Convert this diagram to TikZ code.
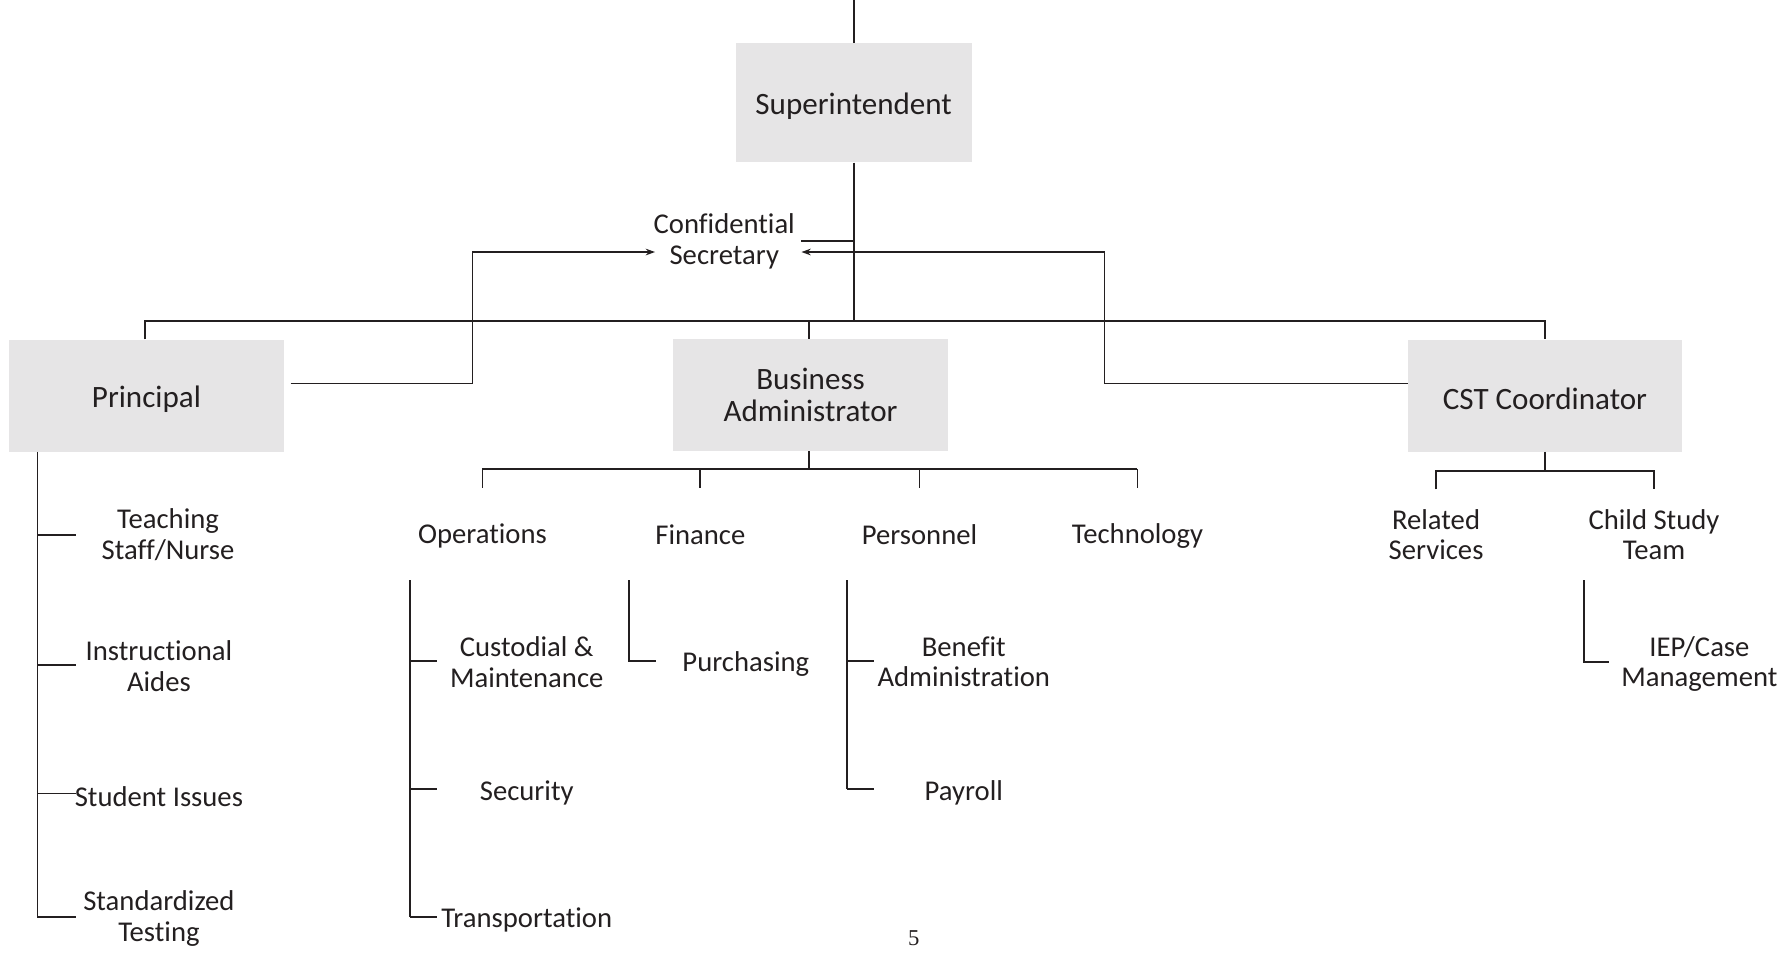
\documentclass[tikz,border=0pt]{standalone}
\usepackage{fontspec}
\setmainfont{Carlito}[Ligatures={NoCommon}]
\newfontfamily\pagefont{Liberation Serif}
\usetikzlibrary{arrows.meta}
\definecolor{boxgray}{RGB}{230,229,230}
\definecolor{ink}{RGB}{35,31,32}
\newcommand{\dn}[1]{\raisebox{-2.5pt}[\height][\depth]{#1}}
\begin{document}
\begin{tikzpicture}[x=0.8514pt,y=-0.8514pt,
  every node/.style={font=\fontsize{21.5}{23}\selectfont, text=ink},
  bigbox/.style={fill=boxgray, draw=none, minimum width=206pt, minimum height=84pt, inner sep=0pt, align=center, font=\fontsize{23.3}{24.3}\selectfont},
  lbl/.style={inner sep=0pt, align=center},
  one/.style={lbl, yshift=-2pt},
  conn/.style={draw=ink, line width=1.4pt},
  thin/.style={draw=ink, line width=0.9pt},
  arr/.style={thin, -{Stealth[length=7pt,width=5pt]}}]
\useasboundingbox (0,0) rectangle (1568,841);
% boxes
\node[bigbox, minimum width=177pt, minimum height=89.4pt] (sup) at (752,90.5) {\dn{Superintendent}};
\node[bigbox] (prin) at (129,348.5) {\dn{Principal}};
\node[bigbox] (ba) at (714,348) {Business\\Administrator};
\node[bigbox] (cst) at (1361,348.5) {\dn{CST Coordinator}};
\node[lbl] (sec) at (638,212.5) {Confidential\\Secretary};
% top connectors
\coordinate (top) at (752,0);
\coordinate (hub) at (752,283);
\draw[conn] (top) -- (sup.north);
\draw[conn] (sup.south) -- (hub);
\draw[conn] (prin.north -| 128,0) |- (hub) -| (cst.north);
\draw[conn] (ba.north -| 713,0) -- (713,283);
\draw[conn] (706,212) -- (752,212);
% secretary arrows
\coordinate (pout) at (256,338);
\coordinate (cin) at (1240,338);
\draw[arr] (pout) -- (416,338) -- (416,222) -- (577,222);
\draw[arr] (cin) -- (973,338) -- (973,222) -- (706,222);
% principal subtree
\node[lbl] (tsn) at (148,471) {Teaching\\Staff/Nurse};
\node[lbl] (ia) at (140,587) {Instructional\\Aides};
\node[one] (si) at (140,699) {Student Issues};
\node[lbl] (st) at (140,809) {Standardized\\Testing};
\draw[conn] (prin.south -| 33,0) -- (33,808);
\foreach \y in {471,586,699,808} \draw[conn] (33,\y) -- (67,\y);
% business administrator subtree
\draw[conn] (ba.south -| 713,0) -- (713,413);
\draw[conn] (425,413) -- (1002,413);
\foreach \x in {425,617,810,1002} \draw[conn] (\x,413) -- (\x,430);
\node[one] (ops) at (425,470) {Operations};
\node[one] (fin) at (617,469) {Finance};
\node[one] (per) at (810,469) {Personnel};
\node[one] (tec) at (1002,470) {Technology};
\node[lbl] (cus) at (464,583) {Custodial \&\\Maintenance};
\node[one] (sec2) at (464,696) {Security};
\node[one] (tra) at (464,808) {Transportation};
\draw[conn] (361,511) -- (361,808);
\foreach \y in {582,695,808} \draw[conn] (361,\y) -- (385,\y);
\node[one] (pur) at (657,583) {Purchasing};
\draw[conn] (554,511) -- (554,582) -- (578,582);
\node[lbl] (ben) at (849,583) {Benefit\\Administration};
\node[one] (pay) at (849,696) {Payroll};
\draw[conn] (746,511) -- (746,695);
\foreach \y in {582,695} \draw[conn] (746,\y) -- (770,\y);
% CST subtree
\draw[conn] (cst.south) -- (1361,415);
\draw[conn] (1265,431) -- (1265,415) -- (1457,415) -- (1457,431);
\node[lbl] (rs) at (1265,471) {Related\\Services};
\node[lbl] (cstt) at (1457,471) {Child Study\\Team};
\node[lbl] (iep) at (1497,585) {IEP/Case\\Management};
\draw[conn] (1395,511) -- (1395,583) -- (1417,583);
% page number
\node[lbl, font=\pagefont\fontsize{17}{18}\selectfont] (pg) at (805,826) {5};
\end{tikzpicture}
\end{document}
